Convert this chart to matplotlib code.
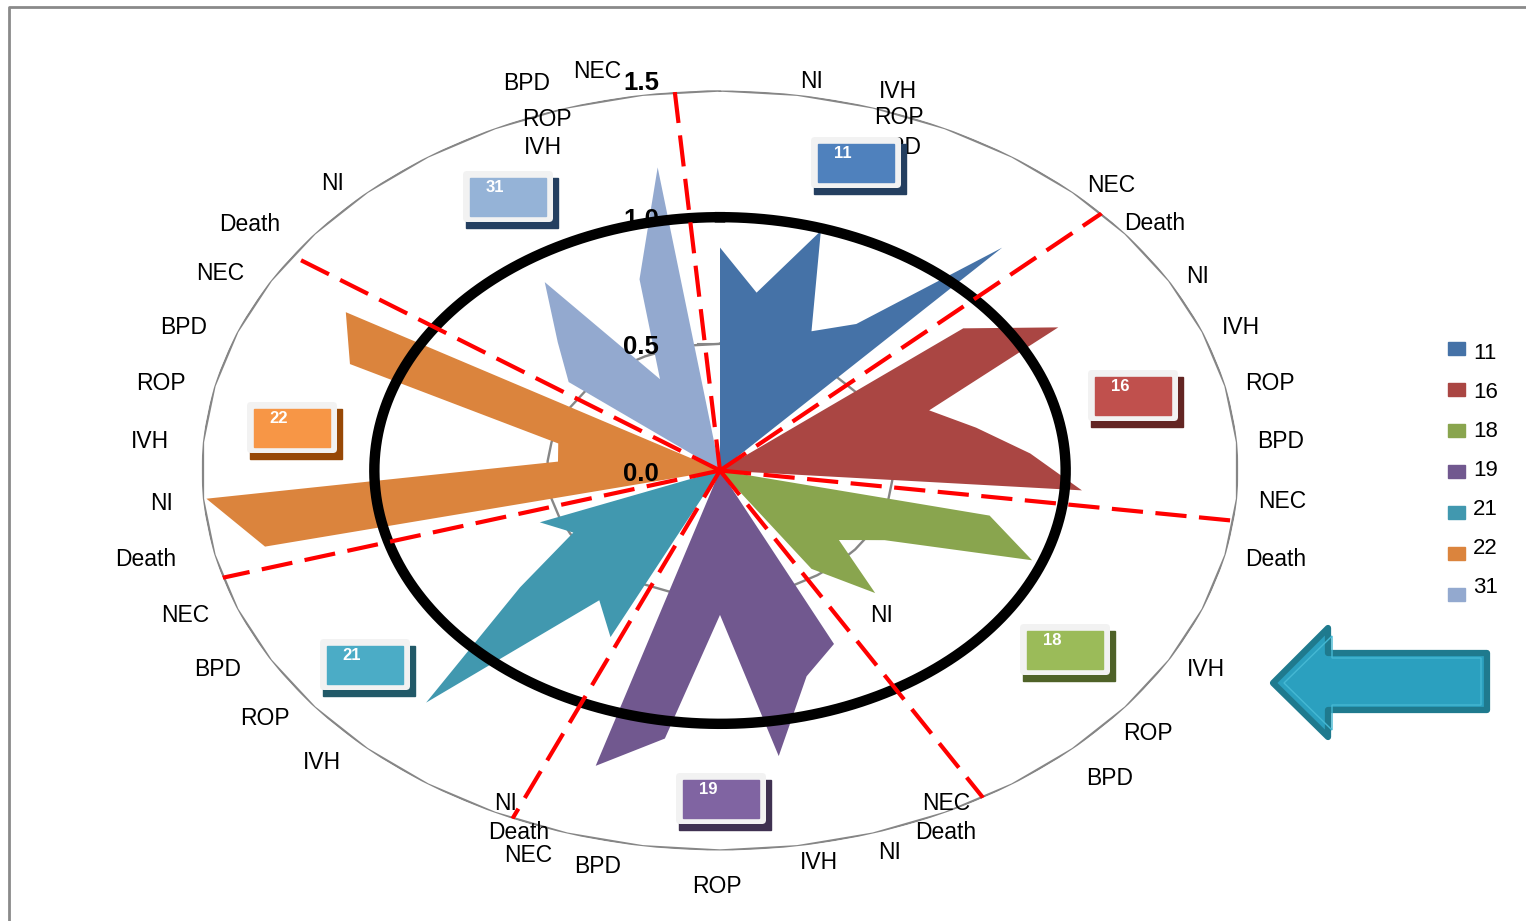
import numpy as np
import matplotlib
matplotlib.use("Agg")
import matplotlib.pyplot as plt
from matplotlib.patches import Rectangle, Polygon, FancyBboxPatch

plt.rcParams['font.family'] = ['Liberation Sans', 'DejaVu Sans']

# ---- data -------------------------------------------------------------
groups = ['11', '16', '18', '19', '21', '22', '31']
outcomes = ['NI', 'IVH', 'ROP', 'BPD', 'NEC', 'Death']

# six values per group, in spoke order
v11 = [0.88, 0.71, 0.99, 0.61, 0.70, 1.20]
v16 = [0.90, 1.13, 0.65, 0.76, 0.90, 1.05]
v18 = [0.80, 0.97, 0.55, 0.44, 0.66, 0.47]
v19 = [0.76, 0.85, 1.14, 0.57, 1.07, 1.22]
v21 = [0.73, 0.62, 1.25, 0.74, 0.49, 0.56]
v22 = [1.35, 1.49, 0.47, 0.48, 1.15, 1.25]
v31 = [0.56, 0.69, 0.90, 0.40, 0.79, 1.21]
series = [v11, v16, v18, v19, v21, v22, v31]

# category labels round the chart (first one is hidden in the original)
categories = ['Death'] + outcomes * 6 + outcomes[:5]
r_ticks = [0.0, 0.5, 1.0, 1.5]
r_tick_labels = ['0.0', '0.5', '1.0', '1.5']

# ---- styles -----------------------------------------------------------
fill_col = ['#4572A7', '#AA4643', '#89A54E', '#71588F', '#4198AF', '#DB843D', '#93A9CF']
box_col = ['#4F81BD', '#C0504D', '#9BBB59', '#8064A2', '#4BACC6', '#F79646', '#95B3D7']
shadow_col = ['#243F60', '#632523', '#4F6228', '#3F3151', '#215968', '#974806', '#243F60']

W, H = 1526, 921
cx, cy = 720, 470.5       # chart centre in pixels
rx, ry = 518.5, 380       # pixel radii of the 1.5 ring

fig = plt.figure(figsize=(W / 100, H / 100), dpi=100)

ov = fig.add_axes([0, 0, 1, 1], zorder=3)
ov.set_xlim(0, W)
ov.set_ylim(H, 0)
ov.axis('off')
ov.patch.set_visible(False)

ax = fig.add_axes([(cx - rx) / W, (H - cy - ry) / H, 2 * rx / W, 2 * ry / H],
                  projection='polar', zorder=1)
ax.set_aspect('auto')
ax.set_theta_zero_location('N')
ax.set_theta_direction(-1)
ax.set_ylim(0, 1.5)
ax.grid(False)
ax.set_xticks([])
ax.set_yticks([])
ax.spines['polar'].set_visible(False)
ax.patch.set_visible(False)

n = len(categories)
theta = 2 * np.pi * np.arange(n) / n
theta_c = np.append(theta, theta[0])

# polygon gridlines
for r in (0.5, 1.0, 1.5):
    ax.plot(theta_c, [r] * (n + 1), color='#868686', lw=1.7, zorder=1)

# small ticks on the value axis
for r in r_ticks[1:]:
    yy = cy - ry / 1.5 * r
    ax.plot([cx - 22, cx], [yy, yy], color='#868686', lw=1.5,
            transform=ov.transData, zorder=1)

# filled series
for i, vals in enumerate(series):
    rr = np.zeros(n)
    rr[6 * i:6 * i + 6] = vals
    ax.fill(theta, rr, color=fill_col[i], lw=0, zorder=2)

# value axis labels
for r, lab in zip(r_ticks, r_tick_labels):
    yy = cy - ry / 1.5 * r + 3
    if r == 1.5:
        yy = 83
    ax.text(641, yy, lab, transform=ov.transData, ha='center', va='center',
            fontsize=18.5, fontweight='bold', color='black', zorder=3)

# thick black ring at 1.0
tf = np.linspace(0, 2 * np.pi, 500)
ax.plot(tf, np.ones_like(tf), color='black', lw=7.5, zorder=4)

# red dashed separators
sep_deg = [355, 47.4, 97.6, 149.5, 203.6, 253.6, 304.4]
for a in sep_deg:
    t = np.deg2rad(a)
    ax.plot([t, t], [0, 1.5], color='#FF0000', lw=3, ls=(0, (7.5, 3)), zorder=5)

# category labels (pixel centres as placed in the original)
label_pos = [None, (812, 82), (898, 92), (899, 118), (898, 147), (1111, 186),
             (1155, 223), (1198, 276), (1241, 327), (1270, 383), (1281, 441),
             (1282, 501), (1276, 559), (882, 615), (1206, 669), (1148, 733),
             (1110, 778), (946, 803), (946, 832), (890, 852), (819, 862),
             (717, 886), (598, 866), (528, 855), (519, 832), (506, 803),
             (322, 762), (265, 718), (218, 669), (185, 615), (146, 559),
             (162, 503), (150, 441), (161, 383), (184, 327), (220, 273),
             (250, 224), (333, 184), (543, 147), (547, 119), (527, 83),
             (597, 71)]
for lab, pos in zip(categories, label_pos):
    if pos is None:
        continue
    ov.text(pos[0], pos[1], lab, ha='center', va='center', fontsize=16.5,
            color='black', zorder=1)

# group tags
box_pos = [(811, 137), (1088, 370), (1020, 624), (676, 773), (320, 639),
           (247, 402), (463, 171)]
for i, (bx, by) in enumerate(box_pos):
    ov.add_patch(Rectangle((bx + 3, by + 7), 92, 50, color=shadow_col[i], zorder=2))
    ov.add_patch(FancyBboxPatch((bx, by), 90, 51, boxstyle='round,pad=0,rounding_size=4',
                                fc='#F2F2F2', ec='none', zorder=3))
    ov.add_patch(Rectangle((bx + 7, by + 7), 76, 38, color=box_col[i], zorder=4))
    ov.text(bx + 32, by + 16, groups[i], ha='center', va='center', fontsize=12,
            fontweight='bold', color='white', zorder=5)

# legend
for i, g in enumerate(groups):
    sy = 348.5 + 41 * i
    ty = 353 + 39 * i
    ov.add_patch(Rectangle((1448, sy - 6.5), 17, 13, color=fill_col[i], zorder=2))
    ov.text(1473, ty, g, ha='left', va='center', fontsize=16, color='black')

# arrow
arrow = [(1273, 683), (1328, 628), (1328, 653), (1487, 653), (1487, 710),
         (1328, 710), (1328, 737)]
ov.add_patch(Polygon(arrow, closed=True, fc='#2BA0BF', ec='#1F7A8E', lw=4.5,
                     joinstyle='round', zorder=2))
inner = [(1284, 683), (1332, 636), (1332, 658), (1481, 658), (1481, 705),
         (1332, 705), (1332, 730)]
ov.add_patch(Polygon(inner, closed=True, fc='none', ec='#45B8D3', lw=1, zorder=3))

# outer chart frame (top and left edges)
ov.plot([9, 9, W + 5], [H + 5, 7, 7], color='#8A8A8A', lw=2, zorder=1)

fig.savefig('out.png', dpi=100)
